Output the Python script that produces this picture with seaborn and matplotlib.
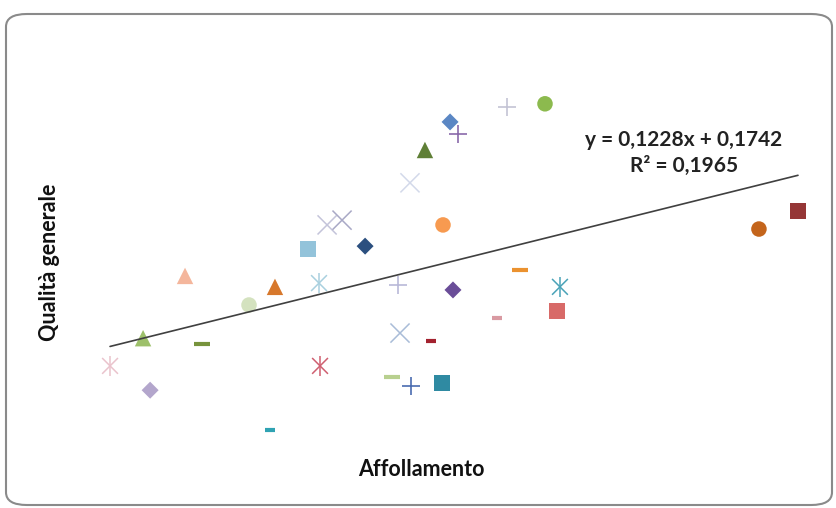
import matplotlib
matplotlib.use("Agg")
import matplotlib.pyplot as plt
from matplotlib.patches import FancyBboxPatch
import pandas as pd
import seaborn as sns

# crowding (x) vs overall quality (y), one point per site
affollamento = [1.000, 1.233, 1.192, 1.535, 1.436, 1.808, 1.959, 1.930, 2.151, 2.215,
                2.221, 2.262, 2.349, 2.483, 2.744, 2.831, 2.977, 3.023, 3.308, 3.529,
                2.936, 2.674, 2.994, 3.384, 3.616, 3.599, 3.250, 2.686, 2.866, 2.640,
                2.750, 2.930, 4.773, 5.000]
qualita = [0.239, 0.168, 0.320, 0.303, 0.502, 0.417, 0.470, 0.051, 0.581, 0.481,
           0.239, 0.651, 0.665, 0.589, 0.774, 0.870, 0.952, 0.917, 0.996, 1.005,
           0.651, 0.475, 0.461, 0.519, 0.470, 0.399, 0.379, 0.335, 0.312, 0.206,
           0.180, 0.189, 0.639, 0.692]

equation_text = "y = 0,1228x + 0,1742"
r2_text = "R² = 0,1965"

# marker kind and colour of every point (Excel default series styles)
point_kind = ["asterisk", "diamond", "triangle", "dash", "triangle", "circle", "triangle", "dash_s",
              "square", "asterisk", "asterisk", "x", "x", "diamond", "x", "triangle",
              "diamond", "plus", "plus", "circle", "circle", "plus", "diamond", "dash",
              "asterisk", "square", "dash_s", "x", "dash_s", "dash", "plus", "square",
              "circle", "square"]
point_color = ["#eac3cc", "#b3a6cc", "#9dc06a", "#77933c", "#f4b69c", "#d4e2bf", "#d7782c", "#2fa3b3",
               "#93c3da", "#a9d0df", "#cf5f70", "#c4c4da", "#a9a9c6", "#2b4f7f", "#d3d9ea", "#5f7f36",
               "#5b87c4", "#8a6aaa", "#c4c4d4", "#8cba4e", "#f79a50", "#b9b9d8", "#6a4d98", "#eb922f",
               "#4aa3b8", "#d86a68", "#d99aa2", "#a9bcd8", "#a3222f", "#b8d08f", "#4a6cb0", "#2f8aa2",
               "#c4651c", "#953636"]

# Excel asterisk = an x with a vertical bar through it, so it is drawn in two passes
marker_style = {
    "circle": [dict(marker="o", s=125, linewidth=0)],
    "square": [dict(marker="s", s=135, linewidth=0)],
    "triangle": [dict(marker="^", s=140, linewidth=0)],
    "diamond": [dict(marker="D", s=75, linewidth=0)],
    "x": [dict(marker="x", s=190, linewidth=1.1)],
    "plus": [dict(marker="+", s=175, linewidth=1.2)],
    "asterisk": [dict(marker="x", s=130, linewidth=1.1),
                 dict(marker="|", s=210, linewidth=1.1)],
    "dash": [dict(marker="_", s=130, linewidth=3.0)],
    "dash_s": [dict(marker="_", s=45, linewidth=3.0)],
}

df = pd.DataFrame({"x": affollamento, "y": qualita, "kind": point_kind,
                   "color": point_color})
df["id"] = [f"p{i}" for i in range(len(df))]

sns.set_theme(style="white")
plt.rcParams["font.family"] = ["Lato", "DejaVu Sans"]

fig = plt.figure(figsize=(8.36, 5.08), dpi=100)
ax = fig.add_axes([60 / 836, 48 / 508, 760 / 836, 400 / 508])

for kind, grp in df.groupby("kind"):
    pal = dict(zip(grp["id"], grp["color"]))
    for kws in marker_style[kind]:
        sns.scatterplot(data=grp, x="x", y="y", hue="id", palette=pal,
                        legend=False, ax=ax, **kws)

sns.regplot(data=df, x="x", y="y", scatter=False, ci=None, truncate=True,
            line_kws=dict(color="#404040", linewidth=1.2), ax=ax)

ax.set_xlim(0.709, 5.128)
ax.set_ylim(-0.036, 1.133)
ax.set_xticks([])
ax.set_yticks([])
for sp in ax.spines.values():
    sp.set_visible(False)
ax.set_xlabel("")
ax.set_ylabel("")

fig.text(421 / 836, 1 - 470 / 508, "Affollamento", ha="center", va="center",
         fontsize=15.5, fontweight="bold", color="#111111")
fig.text(50 / 836, 1 - 262 / 508, "Qualità generale", ha="center", va="center",
         rotation=90, fontsize=15.5, fontweight="bold", color="#111111")
fig.text(684 / 836, 1 - 140 / 508, equation_text, ha="center", va="center",
         fontsize=15, fontweight="bold", color="#222222")
fig.text(684 / 836, 1 - 166 / 508, r2_text, ha="center", va="center",
         fontsize=15, fontweight="bold", color="#222222")

border = FancyBboxPatch((6 / 836, 3 / 508), 826 / 836, 491 / 508,
                        boxstyle="round,pad=0,rounding_size=0.025",
                        transform=fig.transFigure, fill=False,
                        edgecolor="#8a8a8a", linewidth=1.5)
fig.patches.append(border)

fig.savefig("out.png", dpi=100)
